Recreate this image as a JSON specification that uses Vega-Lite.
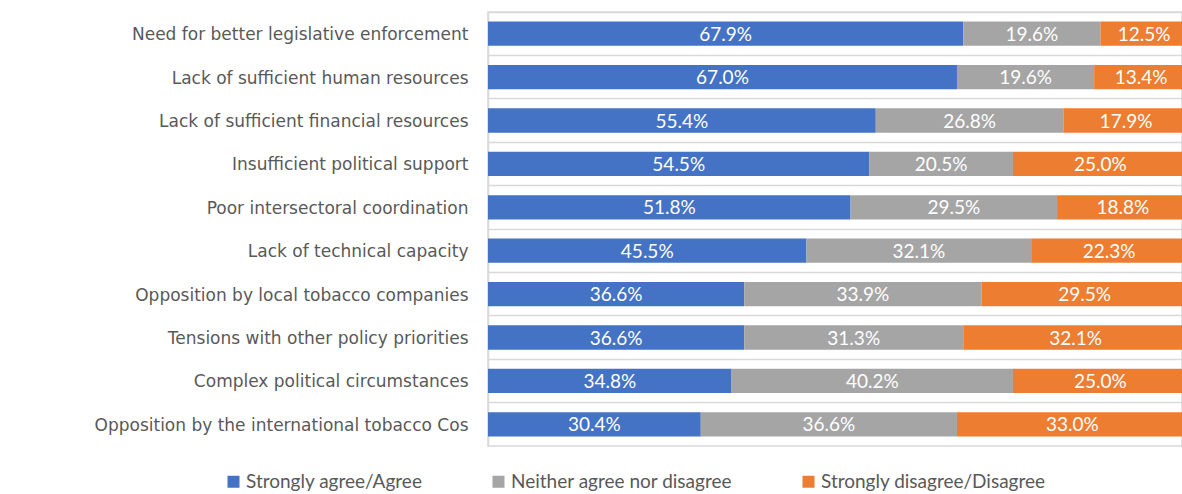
{
  "$schema": "https://vega.github.io/schema/vega-lite/v6.json",
  "width": 694,
  "height": 434,
  "autosize": {"type": "none"},
  "padding": {"left": 488, "top": 12, "right": 0, "bottom": 48},
  "background": "white",
  "config": {"view": {"stroke": "#d9d9d9", "strokeWidth": 1.5}, "font": "Lato"},
  "data": {"values": [
    {"category": "Need for better legislative enforcement", "response": "Strongly agree/Agree", "order": 1, "value": 67.9},
    {"category": "Need for better legislative enforcement", "response": "Neither agree nor disagree", "order": 2, "value": 19.6},
    {"category": "Need for better legislative enforcement", "response": "Strongly disagree/Disagree", "order": 3, "value": 12.5},
    {"category": "Lack of sufficient human resources", "response": "Strongly agree/Agree", "order": 1, "value": 67.0},
    {"category": "Lack of sufficient human resources", "response": "Neither agree nor disagree", "order": 2, "value": 19.6},
    {"category": "Lack of sufficient human resources", "response": "Strongly disagree/Disagree", "order": 3, "value": 13.4},
    {"category": "Lack of sufficient financial resources", "response": "Strongly agree/Agree", "order": 1, "value": 55.4},
    {"category": "Lack of sufficient financial resources", "response": "Neither agree nor disagree", "order": 2, "value": 26.8},
    {"category": "Lack of sufficient financial resources", "response": "Strongly disagree/Disagree", "order": 3, "value": 17.9},
    {"category": "Insufficient political support", "response": "Strongly agree/Agree", "order": 1, "value": 54.5},
    {"category": "Insufficient political support", "response": "Neither agree nor disagree", "order": 2, "value": 20.5},
    {"category": "Insufficient political support", "response": "Strongly disagree/Disagree", "order": 3, "value": 25.0},
    {"category": "Poor intersectoral coordination", "response": "Strongly agree/Agree", "order": 1, "value": 51.8},
    {"category": "Poor intersectoral coordination", "response": "Neither agree nor disagree", "order": 2, "value": 29.5},
    {"category": "Poor intersectoral coordination", "response": "Strongly disagree/Disagree", "order": 3, "value": 18.8},
    {"category": "Lack of technical capacity", "response": "Strongly agree/Agree", "order": 1, "value": 45.5},
    {"category": "Lack of technical capacity", "response": "Neither agree nor disagree", "order": 2, "value": 32.1},
    {"category": "Lack of technical capacity", "response": "Strongly disagree/Disagree", "order": 3, "value": 22.3},
    {"category": "Opposition by local tobacco companies", "response": "Strongly agree/Agree", "order": 1, "value": 36.6},
    {"category": "Opposition by local tobacco companies", "response": "Neither agree nor disagree", "order": 2, "value": 33.9},
    {"category": "Opposition by local tobacco companies", "response": "Strongly disagree/Disagree", "order": 3, "value": 29.5},
    {"category": "Tensions with other policy priorities", "response": "Strongly agree/Agree", "order": 1, "value": 36.6},
    {"category": "Tensions with other policy priorities", "response": "Neither agree nor disagree", "order": 2, "value": 31.3},
    {"category": "Tensions with other policy priorities", "response": "Strongly disagree/Disagree", "order": 3, "value": 32.1},
    {"category": "Complex political circumstances", "response": "Strongly agree/Agree", "order": 1, "value": 34.8},
    {"category": "Complex political circumstances", "response": "Neither agree nor disagree", "order": 2, "value": 40.2},
    {"category": "Complex political circumstances", "response": "Strongly disagree/Disagree", "order": 3, "value": 25.0},
    {"category": "Opposition by the international tobacco Cos", "response": "Strongly agree/Agree", "order": 1, "value": 30.4},
    {"category": "Opposition by the international tobacco Cos", "response": "Neither agree nor disagree", "order": 2, "value": 36.6},
    {"category": "Opposition by the international tobacco Cos", "response": "Strongly disagree/Disagree", "order": 3, "value": 33.0}
  ]},
  "transform": [
    {"stack": "value", "groupby": ["category"], "sort": [{"field": "order", "order": "ascending"}], "as": ["v0", "v1"]},
    {"calculate": "(datum.v0 + datum.v1) / 2", "as": "mid"},
    {"calculate": "format(datum.value, '.1f') + '%'", "as": "label"}
  ],
  "encoding": {
    "y": {
      "field": "category",
      "type": "nominal",
      "sort": null,
      "scale": {"paddingInner": 0, "paddingOuter": 0},
      "axis": {
        "title": null,
        "grid": true,
        "gridColor": "#d9d9d9",
        "gridWidth": 1.5,
        "bandPosition": 0,
        "domain": true,
        "domainColor": "#d9d9d9",
        "domainWidth": 1.5,
        "ticks": false,
        "labelPadding": 20,
        "labelOffset": 1.5,
        "labelFont": "DejaVu Sans",
        "labelFontSize": 17,
        "labelColor": "#595959",
        "labelLimit": 500
      }
    }
  },
  "layer": [
    {
      "mark": {"type": "bar", "height": {"band": 0.56}, "clip": true},
      "encoding": {
        "x": {"field": "v0", "type": "quantitative", "scale": {"domain": [0, 99.15], "nice": false, "zero": true}, "axis": null},
        "x2": {"field": "v1"},
        "color": {
          "field": "response",
          "type": "nominal",
          "scale": {
            "domain": ["Strongly agree/Agree", "Neither agree nor disagree", "Strongly disagree/Disagree"],
            "range": ["#4472C4", "#A5A5A5", "#ED7D31"]
          },
          "legend": {
            "title": null,
            "orient": "none",
            "direction": "horizontal",
            "columns": 3,
            "legendX": -264,
            "legendY": 460,
            "symbolType": "square",
            "symbolSize": 144,
            "symbolStrokeWidth": 0,
            "symbolOpacity": 1,
            "labelFont": "Lato",
            "labelFontSize": 19,
            "labelColor": "#595959",
            "labelOffset": 3,
            "columnPadding": 66,
            "labelLimit": 400
          }
        }
      }
    },
    {
      "mark": {"type": "text", "color": "white", "fontSize": 19, "font": "Lato", "baseline": "middle", "dy": 1},
      "encoding": {
        "x": {"field": "mid", "type": "quantitative"},
        "text": {"field": "label"}
      }
    }
  ]
}
